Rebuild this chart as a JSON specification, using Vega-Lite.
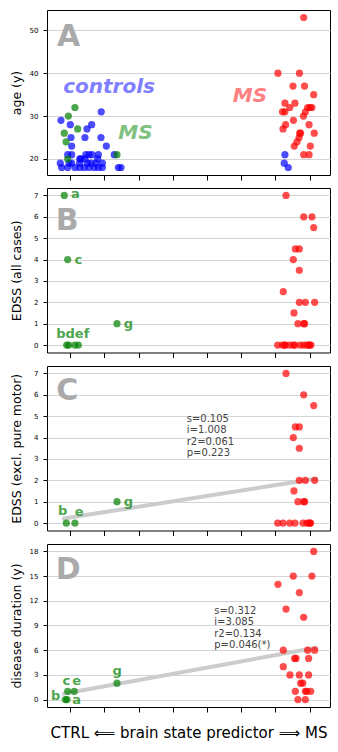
{
  "$schema": "https://vega.github.io/schema/vega-lite/v6.json",
  "padding": {"left": 9, "top": 9, "right": 9, "bottom": 5},
  "spacing": 6,
  "config": {
    "font": "DejaVu Sans",
    "view": {"stroke": "black", "strokeWidth": 1},
    "axis": {"labelFontSize": 7, "titleFontSize": 12.5, "titleFontWeight": "normal", "labelColor": "black", "titleColor": "black", "tickColor": "black", "domain": false, "gridColor": "#d4d4d4", "gridWidth": 1}
  },
  "datasets": {
    "pts": [
      {"p": "A", "g": "ctrl", "x": -5.22, "y": 31},
      {"p": "A", "g": "ctrl", "x": -8.16, "y": 29},
      {"p": "A", "g": "ctrl", "x": -7.48, "y": 28},
      {"p": "A", "g": "ctrl", "x": -5.92, "y": 28},
      {"p": "A", "g": "ctrl", "x": -6.26, "y": 27},
      {"p": "A", "g": "ctrl", "x": -7.43, "y": 25},
      {"p": "A", "g": "ctrl", "x": -6.41, "y": 25},
      {"p": "A", "g": "ctrl", "x": -5.24, "y": 25},
      {"p": "A", "g": "ctrl", "x": -7.38, "y": 23},
      {"p": "A", "g": "ctrl", "x": -4.85, "y": 23},
      {"p": "A", "g": "ctrl", "x": -7.67, "y": 21},
      {"p": "A", "g": "ctrl", "x": -7.38, "y": 21},
      {"p": "A", "g": "ctrl", "x": -6.35, "y": 21},
      {"p": "A", "g": "ctrl", "x": -6.11, "y": 21},
      {"p": "A", "g": "ctrl", "x": -5.89, "y": 21},
      {"p": "A", "g": "ctrl", "x": -5.43, "y": 21},
      {"p": "A", "g": "ctrl", "x": -4.27, "y": 21},
      {"p": "A", "g": "ctrl", "x": -6.79, "y": 20},
      {"p": "A", "g": "ctrl", "x": -6.7, "y": 20},
      {"p": "A", "g": "ctrl", "x": -6.41, "y": 20},
      {"p": "A", "g": "ctrl", "x": -5.48, "y": 20},
      {"p": "A", "g": "ctrl", "x": -8.21, "y": 19},
      {"p": "A", "g": "ctrl", "x": -7.57, "y": 19},
      {"p": "A", "g": "ctrl", "x": -7.38, "y": 19},
      {"p": "A", "g": "ctrl", "x": -6.79, "y": 19},
      {"p": "A", "g": "ctrl", "x": -6.21, "y": 19},
      {"p": "A", "g": "ctrl", "x": -5.97, "y": 19},
      {"p": "A", "g": "ctrl", "x": -5.62, "y": 19},
      {"p": "A", "g": "ctrl", "x": -5.14, "y": 19},
      {"p": "A", "g": "ctrl", "x": -8.11, "y": 18},
      {"p": "A", "g": "ctrl", "x": -7.67, "y": 18},
      {"p": "A", "g": "ctrl", "x": -7.14, "y": 18},
      {"p": "A", "g": "ctrl", "x": -6.79, "y": 18},
      {"p": "A", "g": "ctrl", "x": -6.46, "y": 18},
      {"p": "A", "g": "ctrl", "x": -6.11, "y": 18},
      {"p": "A", "g": "ctrl", "x": -5.73, "y": 18},
      {"p": "A", "g": "ctrl", "x": -5.43, "y": 18},
      {"p": "A", "g": "ctrl", "x": -5.14, "y": 18},
      {"p": "A", "g": "ctrl", "x": -3.97, "y": 18},
      {"p": "A", "g": "ctrl", "x": -3.78, "y": 18},
      {"p": "A", "g": "ctrl", "x": 8.19, "y": 21},
      {"p": "A", "g": "ctrl", "x": 8.14, "y": 19},
      {"p": "A", "g": "ctrl", "x": 8.43, "y": 18},
      {"p": "A", "g": "ms", "x": 9.56, "y": 53},
      {"p": "A", "g": "ms", "x": 7.68, "y": 40},
      {"p": "A", "g": "ms", "x": 9.25, "y": 40},
      {"p": "A", "g": "ms", "x": 8.78, "y": 37},
      {"p": "A", "g": "ms", "x": 9.62, "y": 37},
      {"p": "A", "g": "ms", "x": 10.29, "y": 35},
      {"p": "A", "g": "ms", "x": 8.19, "y": 33},
      {"p": "A", "g": "ms", "x": 8.92, "y": 33},
      {"p": "A", "g": "ms", "x": 8.54, "y": 32},
      {"p": "A", "g": "ms", "x": 9.85, "y": 32},
      {"p": "A", "g": "ms", "x": 10.02, "y": 32},
      {"p": "A", "g": "ms", "x": 10.16, "y": 32},
      {"p": "A", "g": "ms", "x": 8.01, "y": 31},
      {"p": "A", "g": "ms", "x": 8.19, "y": 31},
      {"p": "A", "g": "ms", "x": 9.69, "y": 31},
      {"p": "A", "g": "ms", "x": 9.54, "y": 30},
      {"p": "A", "g": "ms", "x": 8.81, "y": 29},
      {"p": "A", "g": "ms", "x": 8.24, "y": 28},
      {"p": "A", "g": "ms", "x": 9.95, "y": 28},
      {"p": "A", "g": "ms", "x": 8.05, "y": 27},
      {"p": "A", "g": "ms", "x": 9.27, "y": 26},
      {"p": "A", "g": "ms", "x": 9.33, "y": 26},
      {"p": "A", "g": "ms", "x": 10.33, "y": 26},
      {"p": "A", "g": "ms", "x": 9.22, "y": 25},
      {"p": "A", "g": "ms", "x": 9.07, "y": 24},
      {"p": "A", "g": "ms", "x": 8.87, "y": 23},
      {"p": "A", "g": "ms", "x": 10.04, "y": 23},
      {"p": "A", "g": "ms", "x": 9.56, "y": 21},
      {"p": "A", "g": "ms", "x": 9.95, "y": 21},
      {"p": "A", "g": "msc", "x": -7.92, "y": 26},
      {"p": "A", "g": "msc", "x": -7.79, "y": 24},
      {"p": "A", "g": "msc", "x": -7.67, "y": 20},
      {"p": "A", "g": "msc", "x": -7.62, "y": 30},
      {"p": "A", "g": "msc", "x": -7.14, "y": 32},
      {"p": "A", "g": "msc", "x": -6.94, "y": 27},
      {"p": "A", "g": "msc", "x": -4.07, "y": 21},

      {"p": "B", "g": "ms", "x": 8.27, "y": 7},
      {"p": "B", "g": "ms", "x": 9.56, "y": 6},
      {"p": "B", "g": "ms", "x": 10.16, "y": 6},
      {"p": "B", "g": "ms", "x": 10.29, "y": 5.5},
      {"p": "B", "g": "ms", "x": 8.95, "y": 4.5},
      {"p": "B", "g": "ms", "x": 9.24, "y": 4.5},
      {"p": "B", "g": "ms", "x": 8.8, "y": 4},
      {"p": "B", "g": "ms", "x": 9.24, "y": 3.5},
      {"p": "B", "g": "ms", "x": 8.07, "y": 2.5},
      {"p": "B", "g": "ms", "x": 9.24, "y": 2},
      {"p": "B", "g": "ms", "x": 9.68, "y": 2},
      {"p": "B", "g": "ms", "x": 10.36, "y": 2},
      {"p": "B", "g": "ms", "x": 8.85, "y": 1.5},
      {"p": "B", "g": "ms", "x": 9.14, "y": 1},
      {"p": "B", "g": "ms", "x": 9.56, "y": 1},
      {"p": "B", "g": "ms", "x": 9.63, "y": 1},
      {"p": "B", "g": "ms", "x": 7.66, "y": 0},
      {"p": "B", "g": "ms", "x": 8.01, "y": 0},
      {"p": "B", "g": "ms", "x": 8.19, "y": 0},
      {"p": "B", "g": "ms", "x": 8.21, "y": 0},
      {"p": "B", "g": "ms", "x": 8.54, "y": 0},
      {"p": "B", "g": "ms", "x": 8.81, "y": 0},
      {"p": "B", "g": "ms", "x": 8.92, "y": 0},
      {"p": "B", "g": "ms", "x": 9.31, "y": 0},
      {"p": "B", "g": "ms", "x": 9.56, "y": 0},
      {"p": "B", "g": "ms", "x": 9.8, "y": 0},
      {"p": "B", "g": "ms", "x": 9.95, "y": 0},
      {"p": "B", "g": "ms", "x": 9.97, "y": 0},
      {"p": "B", "g": "ms", "x": 10.09, "y": 0},
      {"p": "B", "g": "msc", "x": -7.92, "y": 7},
      {"p": "B", "g": "msc", "x": -7.67, "y": 4},
      {"p": "B", "g": "msc", "x": -7.74, "y": 0},
      {"p": "B", "g": "msc", "x": -7.59, "y": 0},
      {"p": "B", "g": "msc", "x": -7.14, "y": 0},
      {"p": "B", "g": "msc", "x": -6.89, "y": 0},
      {"p": "B", "g": "msc", "x": -4.07, "y": 1},

      {"p": "C", "g": "ms", "x": 8.27, "y": 7},
      {"p": "C", "g": "ms", "x": 9.56, "y": 6},
      {"p": "C", "g": "ms", "x": 10.29, "y": 5.5},
      {"p": "C", "g": "ms", "x": 8.95, "y": 4.5},
      {"p": "C", "g": "ms", "x": 9.24, "y": 4.5},
      {"p": "C", "g": "ms", "x": 8.8, "y": 4},
      {"p": "C", "g": "ms", "x": 9.24, "y": 3.5},
      {"p": "C", "g": "ms", "x": 9.24, "y": 2},
      {"p": "C", "g": "ms", "x": 9.68, "y": 2},
      {"p": "C", "g": "ms", "x": 10.36, "y": 2},
      {"p": "C", "g": "ms", "x": 8.85, "y": 1.5},
      {"p": "C", "g": "ms", "x": 9.14, "y": 1},
      {"p": "C", "g": "ms", "x": 9.56, "y": 1},
      {"p": "C", "g": "ms", "x": 9.63, "y": 1},
      {"p": "C", "g": "ms", "x": 7.66, "y": 0},
      {"p": "C", "g": "ms", "x": 8.05, "y": 0},
      {"p": "C", "g": "ms", "x": 8.54, "y": 0},
      {"p": "C", "g": "ms", "x": 8.92, "y": 0},
      {"p": "C", "g": "ms", "x": 9.51, "y": 0},
      {"p": "C", "g": "ms", "x": 9.8, "y": 0},
      {"p": "C", "g": "ms", "x": 9.95, "y": 0},
      {"p": "C", "g": "ms", "x": 10.02, "y": 0},
      {"p": "C", "g": "ms", "x": 10.06, "y": 0},
      {"p": "C", "g": "msc", "x": -7.77, "y": 0},
      {"p": "C", "g": "msc", "x": -7.14, "y": 0},
      {"p": "C", "g": "msc", "x": -4.07, "y": 1},

      {"p": "D", "g": "ms", "x": 10.29, "y": 18},
      {"p": "D", "g": "ms", "x": 8.8, "y": 15},
      {"p": "D", "g": "ms", "x": 10.16, "y": 15},
      {"p": "D", "g": "ms", "x": 7.68, "y": 14},
      {"p": "D", "g": "ms", "x": 9.24, "y": 13},
      {"p": "D", "g": "ms", "x": 8.27, "y": 11},
      {"p": "D", "g": "ms", "x": 9.56, "y": 10},
      {"p": "D", "g": "ms", "x": 8.07, "y": 6},
      {"p": "D", "g": "ms", "x": 9.85, "y": 6},
      {"p": "D", "g": "ms", "x": 10.36, "y": 6},
      {"p": "D", "g": "ms", "x": 8.9, "y": 5},
      {"p": "D", "g": "ms", "x": 9.0, "y": 5},
      {"p": "D", "g": "ms", "x": 9.92, "y": 5},
      {"p": "D", "g": "ms", "x": 8.07, "y": 4},
      {"p": "D", "g": "ms", "x": 8.56, "y": 3},
      {"p": "D", "g": "ms", "x": 9.24, "y": 3},
      {"p": "D", "g": "ms", "x": 9.92, "y": 3},
      {"p": "D", "g": "ms", "x": 9.34, "y": 2},
      {"p": "D", "g": "ms", "x": 9.49, "y": 2},
      {"p": "D", "g": "ms", "x": 8.95, "y": 1},
      {"p": "D", "g": "ms", "x": 9.68, "y": 1},
      {"p": "D", "g": "ms", "x": 9.78, "y": 1},
      {"p": "D", "g": "ms", "x": 10.07, "y": 1},
      {"p": "D", "g": "ms", "x": 9.14, "y": 0},
      {"p": "D", "g": "ms", "x": 9.68, "y": 0},
      {"p": "D", "g": "msc", "x": -7.84, "y": 0},
      {"p": "D", "g": "msc", "x": -7.72, "y": 0},
      {"p": "D", "g": "msc", "x": -7.67, "y": 1},
      {"p": "D", "g": "msc", "x": -7.19, "y": 1},
      {"p": "D", "g": "msc", "x": -4.07, "y": 2}
    ],
    "lab": [
      {"p": "B", "t": "a", "x": -7.1, "y": 7.06},
      {"p": "B", "t": "c", "x": -6.89, "y": 4},
      {"p": "B", "t": "bdef", "x": -7.3, "y": 0.53},
      {"p": "B", "t": "g", "x": -3.23, "y": 1},
      {"p": "C", "t": "b", "x": -8.03, "y": 0.56},
      {"p": "C", "t": "e", "x": -6.84, "y": 0.51},
      {"p": "C", "t": "g", "x": -3.24, "y": 1},
      {"p": "D", "t": "b", "x": -8.54, "y": 0.48},
      {"p": "D", "t": "a", "x": -7.01, "y": -0.05},
      {"p": "D", "t": "c", "x": -7.77, "y": 2.27},
      {"p": "D", "t": "e", "x": -7.01, "y": 2.27},
      {"p": "D", "t": "g", "x": -4.05, "y": 3.46}
    ],
    "reg": [
      {"p": "C", "x": -8.08, "y": 0.2},
      {"p": "C", "x": 10.58, "y": 2.08},
      {"p": "D", "x": -8.08, "y": 0.67},
      {"p": "D", "x": 10.58, "y": 6.33}
    ],
    "note": [
      {"p": "A", "k": "letter", "t": "A", "x": -8.45, "y": 46.35},
      {"p": "B", "k": "letter", "t": "B", "x": -8.55, "y": 5.4},
      {"p": "C", "k": "letter", "t": "C", "x": -8.5, "y": 5.75},
      {"p": "D", "k": "letter", "t": "D", "x": -8.55, "y": 14.6},
      {"p": "C", "k": "stat", "t": "s=0.105\ni=1.008\nr2=0.061\np=0.223", "x": 1.02, "y": 5.12},
      {"p": "D", "k": "stat", "t": "s=0.312\ni=3.085\nr2=0.134\np=0.046(*)", "x": 3.03, "y": 11.39},
      {"p": "A", "k": "ctrl", "t": "controls", "x": -8.0, "y": 35.5},
      {"p": "A", "k": "msc", "t": "MS", "x": -3.97, "y": 24.65},
      {"p": "A", "k": "ms", "t": "MS", "x": 4.38, "y": 33.4}
    ]
  },
  "vconcat": [
    {
      "width": 283, "height": 165,
      "encoding": {
        "x": {"field": "x", "type": "quantitative", "scale": {"domain": [-9.18, 11.48], "nice": false, "zero": false},
              "axis": {"values": [-7.5, -5, -2.5, 0, 2.5, 5, 7.5, 10], "labels": false, "tickSize": 5, "grid": false, "title": null}},
        "y": {"field": "y", "type": "quantitative", "scale": {"domain": [16.25, 54.75], "nice": false, "zero": false},
              "axis": {"values": [20, 30, 40, 50], "tickSize": 4, "labelPadding": 5, "grid": true, "minExtent": 20, "maxExtent": 20, "titlePadding": 4, "title": "age (y)"}}
      },
      "layer": [
        {"data": {"name": "note"}, "transform": [{"filter": "datum.p == 'A' && datum.k == 'letter'"}],
         "mark": {"type": "text", "fontSize": 30, "fontWeight": "bold", "color": "#aaaaaa", "align": "left", "baseline": "alphabetic"},
         "encoding": {"text": {"field": "t"}}},
        {"data": {"name": "note"}, "transform": [{"filter": "datum.k == 'ctrl'"}],
         "mark": {"type": "text", "fontSize": 20, "fontWeight": "bold", "fontStyle": "italic", "color": "#8080ff", "align": "left", "baseline": "alphabetic"},
         "encoding": {"text": {"field": "t"}}},
        {"data": {"name": "note"}, "transform": [{"filter": "datum.k == 'msc'"}],
         "mark": {"type": "text", "fontSize": 20, "fontWeight": "bold", "fontStyle": "italic", "color": "#80c080", "align": "left", "baseline": "alphabetic"},
         "encoding": {"text": {"field": "t"}}},
        {"data": {"name": "note"}, "transform": [{"filter": "datum.k == 'ms'"}],
         "mark": {"type": "text", "fontSize": 20, "fontWeight": "bold", "fontStyle": "italic", "color": "#ff8080", "align": "left", "baseline": "alphabetic"},
         "encoding": {"text": {"field": "t"}}},
        {"data": {"name": "pts"}, "transform": [{"filter": "datum.p == 'A'"}],
         "mark": {"type": "circle", "size": 52, "opacity": 0.7},
         "encoding": {"color": {"field": "g", "type": "nominal", "scale": {"domain": ["ctrl", "ms", "msc"], "range": ["#0000ff", "#ff0000", "#008000"]}, "legend": null}}}
      ]
    },
    {
      "width": 283, "height": 164.5,
      "encoding": {
        "x": {"field": "x", "type": "quantitative", "scale": {"domain": [-9.18, 11.48], "nice": false, "zero": false},
              "axis": {"values": [-7.5, -5, -2.5, 0, 2.5, 5, 7.5, 10], "labels": false, "tickSize": 5, "grid": false, "title": null}},
        "y": {"field": "y", "type": "quantitative", "scale": {"domain": [-0.35, 7.35], "nice": false, "zero": false},
              "axis": {"values": [0, 1, 2, 3, 4, 5, 6, 7], "tickSize": 4, "labelPadding": 5, "grid": true, "minExtent": 20, "maxExtent": 20, "titlePadding": 4, "title": "EDSS (all cases)"}}
      },
      "layer": [
        {"data": {"name": "note"}, "transform": [{"filter": "datum.p == 'B' && datum.k == 'letter'"}],
         "mark": {"type": "text", "fontSize": 30, "fontWeight": "bold", "color": "#aaaaaa", "align": "left", "baseline": "alphabetic"},
         "encoding": {"text": {"field": "t"}}},
        {"data": {"name": "pts"}, "transform": [{"filter": "datum.p == 'B'"}],
         "mark": {"type": "circle", "size": 52, "opacity": 0.7},
         "encoding": {"color": {"field": "g", "type": "nominal", "scale": {"domain": ["ctrl", "ms", "msc"], "range": ["#0000ff", "#ff0000", "#008000"]}, "legend": null}}},
        {"data": {"name": "lab"}, "transform": [{"filter": "datum.p == 'B'"}],
         "mark": {"type": "text", "fontSize": 13, "fontWeight": "bold", "color": "#008000", "opacity": 0.7, "align": "center", "baseline": "middle"},
         "encoding": {"text": {"field": "t"}}}
      ]
    },
    {
      "width": 283, "height": 164.5,
      "encoding": {
        "x": {"field": "x", "type": "quantitative", "scale": {"domain": [-9.18, 11.48], "nice": false, "zero": false},
              "axis": {"values": [-7.5, -5, -2.5, 0, 2.5, 5, 7.5, 10], "labels": false, "tickSize": 5, "grid": false, "title": null}},
        "y": {"field": "y", "type": "quantitative", "scale": {"domain": [-0.35, 7.35], "nice": false, "zero": false},
              "axis": {"values": [0, 1, 2, 3, 4, 5, 6, 7], "tickSize": 4, "labelPadding": 5, "grid": true, "minExtent": 20, "maxExtent": 20, "titlePadding": 4, "title": "EDSS (excl. pure motor)"}}
      },
      "layer": [
        {"data": {"name": "reg"}, "transform": [{"filter": "datum.p == 'C'"}],
         "mark": {"type": "line", "color": "#cccccc", "strokeWidth": 4}},
        {"data": {"name": "note"}, "transform": [{"filter": "datum.p == 'C'  && datum.k == 'letter'"}],
         "mark": {"type": "text", "fontSize": 30, "fontWeight": "bold", "color": "#aaaaaa", "align": "left", "baseline": "alphabetic"},
         "encoding": {"text": {"field": "t"}}},
        {"data": {"name": "note"}, "transform": [{"filter": "datum.p == 'C'  && datum.k == 'stat'"}],
         "mark": {"type": "text", "fontSize": 10, "color": "#444444", "align": "left", "baseline": "top", "lineBreak": "\n", "lineHeight": 11.5},
         "encoding": {"text": {"field": "t"}}},
        {"data": {"name": "pts"}, "transform": [{"filter": "datum.p == 'C'"}],
         "mark": {"type": "circle", "size": 52, "opacity": 0.7},
         "encoding": {"color": {"field": "g", "type": "nominal", "scale": {"domain": ["ctrl", "ms", "msc"], "range": ["#0000ff", "#ff0000", "#008000"]}, "legend": null}}},
        {"data": {"name": "lab"}, "transform": [{"filter": "datum.p == 'C'"}],
         "mark": {"type": "text", "fontSize": 13, "fontWeight": "bold", "color": "#008000", "opacity": 0.7, "align": "center", "baseline": "middle"},
         "encoding": {"text": {"field": "t"}}}
      ]
    },
    {
      "width": 283, "height": 163,
      "encoding": {
        "x": {"field": "x", "type": "quantitative", "scale": {"domain": [-9.18, 11.48], "nice": false, "zero": false},
              "axis": {"values": [-7.5, -5, -2.5, 0, 2.5, 5, 7.5, 10], "labels": false, "tickSize": 5, "grid": false, "title": "CTRL ⟸ brain state predictor ⟹ MS", "titleFontSize": 15, "titlePadding": 13}},
        "y": {"field": "y", "type": "quantitative", "scale": {"domain": [-0.9, 18.9], "nice": false, "zero": false},
              "axis": {"values": [0, 3, 6, 9, 12, 15, 18], "tickSize": 4, "labelPadding": 5, "grid": true, "minExtent": 20, "maxExtent": 20, "titlePadding": 4, "title": "disease duration (y)"}}
      },
      "layer": [
        {"data": {"name": "reg"}, "transform": [{"filter": "datum.p == 'D'"}],
         "mark": {"type": "line", "color": "#cccccc", "strokeWidth": 4}},
        {"data": {"name": "note"}, "transform": [{"filter": "datum.p == 'D'  && datum.k == 'letter'"}],
         "mark": {"type": "text", "fontSize": 30, "fontWeight": "bold", "color": "#aaaaaa", "align": "left", "baseline": "alphabetic"},
         "encoding": {"text": {"field": "t"}}},
        {"data": {"name": "note"}, "transform": [{"filter": "datum.p == 'D'  && datum.k == 'stat'"}],
         "mark": {"type": "text", "fontSize": 10, "color": "#444444", "align": "left", "baseline": "top", "lineBreak": "\n", "lineHeight": 11.5},
         "encoding": {"text": {"field": "t"}}},
        {"data": {"name": "pts"}, "transform": [{"filter": "datum.p == 'D'"}],
         "mark": {"type": "circle", "size": 52, "opacity": 0.7},
         "encoding": {"color": {"field": "g", "type": "nominal", "scale": {"domain": ["ctrl", "ms", "msc"], "range": ["#0000ff", "#ff0000", "#008000"]}, "legend": null}}},
        {"data": {"name": "lab"}, "transform": [{"filter": "datum.p == 'D'"}],
         "mark": {"type": "text", "fontSize": 13, "fontWeight": "bold", "color": "#008000", "opacity": 0.7, "align": "center", "baseline": "middle"},
         "encoding": {"text": {"field": "t"}}}
      ]
    }
  ]
}
